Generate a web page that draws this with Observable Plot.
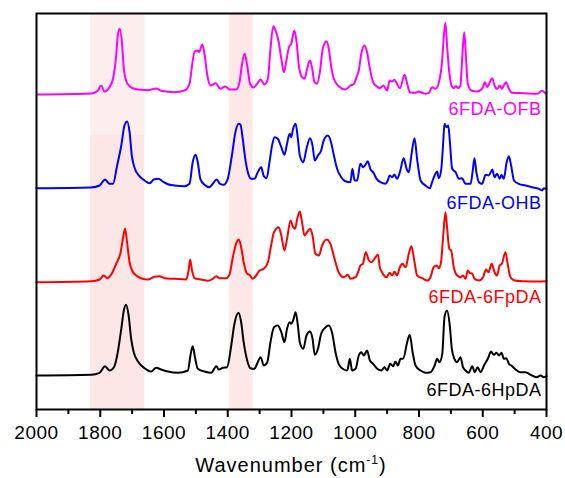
<!DOCTYPE html>
<html>
<head>
<meta charset="utf-8">
<script src="https://cdn.jsdelivr.net/npm/d3@7"></script>
<script src="https://cdn.jsdelivr.net/npm/@observablehq/plot@0.6"></script>
<style>
  html, body { margin: 0; padding: 0; background: #fff; }
  #chart { width: 565px; height: 478px; }
</style>
</head>
<body>
<div id="chart"></div>
<script>
// FTIR spectra of four 6FDA polyimides: [wavenumber (cm-1), absorbance (a.u.)]
const ofb = [
  [2000,0],[1828,1],[1808,3.7],[1797,9],[1787,3],[1771,7.3],[1760,15.7],[1750,39],[1745,59],[1739,65.7],
  [1732,52.3],[1726,25.7],[1719,14],[1708,8.3],[1693,5.7],[1672,4.7],[1651,4.3],[1625,6],[1609,3.7],[1567,2.3],
  [1536,4],[1520,10.7],[1512,29],[1504,43],[1494,44],[1490,42.3],[1480,50],[1473,40.7],[1464,19],[1454,9],
  [1438,11.3],[1423,5.7],[1408,8],[1394,5],[1374,5],[1363,12.3],[1356,29],[1347,40.7],[1339,29],[1330,10.7],
  [1319,7],[1308,10.7],[1297,15],[1285,10],[1274,15.7],[1266,45.7],[1257,68.3],[1250,64],[1240,52.3],[1232,35.7],
  [1224,22.3],[1217,32.3],[1208,47.3],[1201,50.7],[1191,64],[1184,52.3],[1177,29],[1167,17.3],[1159,15.7],[1151,25.7],
  [1142,34],[1135,25.7],[1128,12.3],[1120,10.7],[1111,22.3],[1102,45.7],[1090,53.3],[1083,45.7],[1076,29],[1067,15.7],
  [1052,8.3],[1031,5],[1015,9],[1004,10.7],[996,17.3],[989,24],[981,40.7],[971,49],[963,42.3],[954,25.7],
  [944,12.3],[933,8.3],[923,6.3],[912,9],[900,4],[892,14],[884,13],[877,14.7],[869,10.7],[860,6.3],
  [845,19.7],[837,10.7],[829,2.3],[811,1.7],[801,3],[790,1.7],[780,0.7],[769,1.7],[759,7.3],[748,5.7],
  [735,15.7],[727,35.7],[722,59],[717,71.7],[712,49],[705,22.3],[698,9],[691,6.3],[684,8.3],[677,6.3],
  [670,9],[664,39],[658,62.3],[653,39],[647,10.7],[636,4],[618,3],[602,5.7],[593,12.3],[586,7.3],
  [578,12.3],[570,16.3],[563,9],[555,5.7],[546,9],[540,5.7],[534,9],[527,12.3],[518,5.7],[508,1.7],
  [471,1.3],[429,0.7],[414,3.7],[403,1.3],[400,1]
];

const ohb = [
  [2000,0.3],[1828,1],[1802,3],[1785,9],[1771,4.7],[1760,4.7],[1747,23],[1734,43],[1724,63],[1716,67],
  [1708,56.3],[1701,33],[1693,21.3],[1677,12.3],[1661,8],[1645,5.3],[1632,9],[1617,9.7],[1604,7],[1588,4.3],
  [1567,3],[1536,2.3],[1520,4.7],[1510,26.3],[1501,33.7],[1494,26.3],[1486,9.7],[1473,3.7],[1457,1.3],[1447,4.7],
  [1435,9],[1424,4.7],[1413,3.7],[1400,9.7],[1387,33],[1376,56.3],[1366,64.7],[1360,63.7],[1353,49.7],[1345,29.7],
  [1337,16.3],[1326,9.7],[1316,9.7],[1306,16.3],[1295,21.3],[1287,12.3],[1278,10.3],[1269,26.3],[1261,43],[1253,51.3],
  [1243,49.7],[1232,41.3],[1222,33.7],[1214,44.7],[1206,54.7],[1201,51.3],[1195,59.7],[1187,64.7],[1180,49.7],[1174,33],
  [1163,26.3],[1153,39.7],[1142,50.3],[1134,43],[1127,28],[1117,33],[1107,38],[1099,48],[1086,53],[1076,46.3],
  [1067,33],[1057,19.7],[1044,11.3],[1031,7.3],[1015,6.3],[1009,19.7],[1002,8],[994,8],[984,24.7],[975,21.3],
  [968,23.7],[961,27.3],[952,19],[944,16.3],[933,9.7],[921,6.3],[905,4.7],[898,8],[892,13],[884,11.3],
  [877,14],[869,9.7],[860,16.3],[848,30.3],[839,19.7],[832,16.3],[824,33],[814,50.3],[806,29.7],[795,8],
  [780,3],[766,0.3],[759,6.3],[751,13],[743,17],[738,10.3],[730,19.7],[724,46.3],[720,64.7],[714,61.3],
  [708,63],[703,46.3],[696,19.7],[685,16.3],[675,9.7],[665,10.3],[654,4.7],[638,4.7],[632,16.3],[626,30.3],
  [620,16.3],[612,6.3],[602,4.7],[591,13.7],[581,13],[570,19],[563,11.3],[555,14.7],[547,9.7],[541,13.7],
  [534,9.7],[525,26.3],[518,32.3],[511,23],[502,8],[487,4.7],[466,3],[445,1.3],[424,-0.3],[414,-2],
  [408,0.3],[400,-0.3]
];

const fpda = [
  [2000,0.3],[1828,1.3],[1802,3],[1789,7],[1778,4.3],[1764,8.7],[1750,18.7],[1736,30.3],[1729,43.7],[1722,53.7],
  [1716,40.3],[1708,20.3],[1700,12],[1687,7],[1672,4.3],[1651,3],[1630,5.7],[1614,6.3],[1598,4.3],[1567,3.7],
  [1530,3],[1523,12],[1518,23],[1512,12],[1504,4.3],[1483,3],[1462,1.7],[1447,3.7],[1436,6.3],[1426,4.3],
  [1405,4.3],[1394,8.7],[1384,25.3],[1374,38.7],[1365,43],[1358,35.3],[1350,20.3],[1339,8.7],[1332,7.7],[1321,3.7],
  [1311,7],[1300,12],[1287,13.7],[1274,20.3],[1264,37],[1255,50.3],[1240,55.3],[1232,47],[1222,32],[1214,43.7],
  [1203,62],[1196,56.3],[1189,53.7],[1182,63.7],[1174,71],[1167,60.3],[1159,47],[1151,50.3],[1142,53.7],[1134,47],
  [1125,28.7],[1114,27],[1104,37],[1090,43],[1078,38.7],[1065,23.7],[1052,10.3],[1036,5.3],[1023,7.7],[1015,3.7],
  [999,5.3],[991,10.3],[984,17],[976,18.7],[967,30.3],[957,22],[949,20.3],[940,23.7],[929,27.7],[923,15.3],
  [916,10.3],[902,5.3],[892,9.7],[884,7],[877,11],[869,7],[860,15.3],[852,18.7],[842,15.3],[832,28.7],
  [824,36.3],[814,20.3],[806,7],[790,4.3],[774,2],[764,5.3],[754,15.3],[745,17],[738,14.3],[731,20.3],
  [724,47],[717,70.3],[712,55.3],[705,33.7],[699,32],[691,15.3],[680,7],[670,5.3],[662,7],[654,3.7],
  [647,12],[641,9.7],[633,8.7],[626,3.7],[612,2],[599,5.3],[590,13],[582,10.3],[572,18.7],[563,10.3],
  [555,7],[547,17],[540,18.7],[529,30.3],[521,17],[513,5.3],[500,2],[471,1.3],[429,1],[400,1.3]
];

const hpda = [
  [2000,0],[1828,0.7],[1802,2.7],[1785,9.3],[1771,5],[1757,8.3],[1745,23.3],[1734,46.7],[1726,65],[1719,70.7],
  [1711,60],[1703,36.7],[1695,23.3],[1680,13.3],[1661,7.3],[1640,4],[1625,7.7],[1609,6],[1588,4],[1557,2.7],
  [1525,5],[1517,20],[1510,29.3],[1502,16.7],[1494,6.7],[1473,4],[1452,2.7],[1436,9.3],[1428,6],[1415,7.7],
  [1402,8.3],[1389,30],[1379,51.7],[1366,62.7],[1358,53.3],[1350,33.3],[1339,15],[1329,7.3],[1316,6.7],[1308,11.7],
  [1297,18.3],[1287,10],[1276,13.3],[1266,33.3],[1255,48.3],[1243,50],[1232,43.3],[1222,33.3],[1214,46.7],[1206,53.3],
  [1201,51.7],[1195,55],[1187,63.3],[1180,50],[1174,33.3],[1163,26.7],[1153,40],[1142,44],[1134,36.7],[1127,20.7],
  [1117,26.7],[1107,41.7],[1093,48.3],[1083,50],[1072,41.7],[1062,23.3],[1052,11.7],[1036,6],[1025,5],[1017,16.7],
  [1010,5],[999,6.7],[989,20],[981,23.3],[973,20],[963,25],[954,15],[944,11.7],[931,6.7],[919,5],
  [908,8.3],[900,5],[890,11.7],[881,9.3],[874,14],[866,10],[858,16.7],[850,16.7],[837,33.3],[829,40.7],
  [820,23.3],[811,10],[795,5],[780,2.7],[764,3.3],[751,10],[743,16.7],[736,13.3],[727,21.7],[720,58.3],
  [712,65],[704,51.7],[697,26.7],[689,16.7],[680,13.3],[670,18.3],[662,8.3],[654,5],[644,2.7],[633,9.3],
  [625,3.3],[616,8.3],[607,3.3],[595,10.7],[584,16.7],[574,24],[565,20.7],[557,22.7],[549,20],[541,22.7],
  [534,16.7],[526,17.3],[518,11.7],[508,9.3],[497,6],[482,3.3],[466,3.3],[450,0.7],[431,-1.7],[419,0],
  [408,-1.7],[400,-0.7]
];

const names   = ["6FDA-OFB", "6FDA-OHB", "6FDA-6FpDA", "6FDA-6HpDA"];
const colors  = ["#ff00ff", "#0000ff", "#ff0000", "#000000"];
const offsets = [315, 221, 127, 34];          // vertical stacking of the traces
const traces  = [ofb, ohb, fpda, hpda];

// highlighted regions (cm-1): imide C=O stretch and C–N stretch
const bandFrom = [1830, 1395];
const bandTo   = [1660, 1320];

const majorTicks = d3.range(2000, 399, -200);
const minorTicks = d3.range(1900, 400, -200);

const series = names.map((name, i) => ({
  name, color: colors[i], offset: offsets[i],
  rows: traces[i].map(([wn, a]) => ({wn, a: a + offsets[i]}))
}));

const bands = [
  {x1: bandFrom[0], x2: bandTo[0], y1: 274, y2: 396, fill: "#fdeeee"},
  {x1: bandFrom[0], x2: bandTo[0], y1: 0,   y2: 274, fill: "#fce6e6"},
  {x1: bandFrom[1], x2: bandTo[1], y1: 0,   y2: 396, fill: "#fde8e8"}
];

const font = "'Liberation Sans', Arial, Helvetica, sans-serif";

const chart = Plot.plot({
  width: 565,
  height: 478,
  marginLeft: 36,
  marginRight: 19,
  marginTop: 13,
  marginBottom: 69,
  style: {fontFamily: font, background: "#fff", color: "#000"},
  x: {domain: [2000, 400]},
  y: {domain: [0, 396], axis: null},
  marks: [
    Plot.rect(bands, {x1: "x1", x2: "x2", y1: "y1", y2: "y2", fill: d => d.fill}),
    ...series.map(s => Plot.line(s.rows, {
      x: "wn", y: "a", stroke: s.color, strokeWidth: 2, curve: "monotone-x"
    })),
    Plot.text(series, {
      frameAnchor: "right", y: "offset", text: "name", fill: d => d.color,
      textAnchor: "end", lineAnchor: "bottom", dx: -5, dy: 20, fontSize: 18
    }),
    Plot.axisX({ticks: minorTicks, tickSize: 5, strokeWidth: 2, tickFormat: () => "", label: null}),
    Plot.axisX({ticks: majorTicks, tickSize: 8, tickPadding: 8, strokeWidth: 2, fontSize: 19, tickFormat: d3.format("d"), label: null}),
    Plot.frame({stroke: "#000", strokeWidth: 2})
  ]
});

// axis title with superscript unit
const svg = d3.select(chart);
svg.selectAll("text").attr("letter-spacing", "0.5");
const title = svg.append("text")
  .attr("x", 291)
  .attr("y", 472)
  .attr("text-anchor", "middle")
  .attr("font-family", font)
  .attr("font-size", 20)
  .attr("letter-spacing", "1")
  .attr("fill", "#000");
title.append("tspan").text("Wavenumber (cm");
title.append("tspan").attr("dy", -8).attr("font-size", 12).text("-1");
title.append("tspan").attr("dy", 8).text(")");

document.getElementById("chart").append(chart);
</script>
</body>
</html>
